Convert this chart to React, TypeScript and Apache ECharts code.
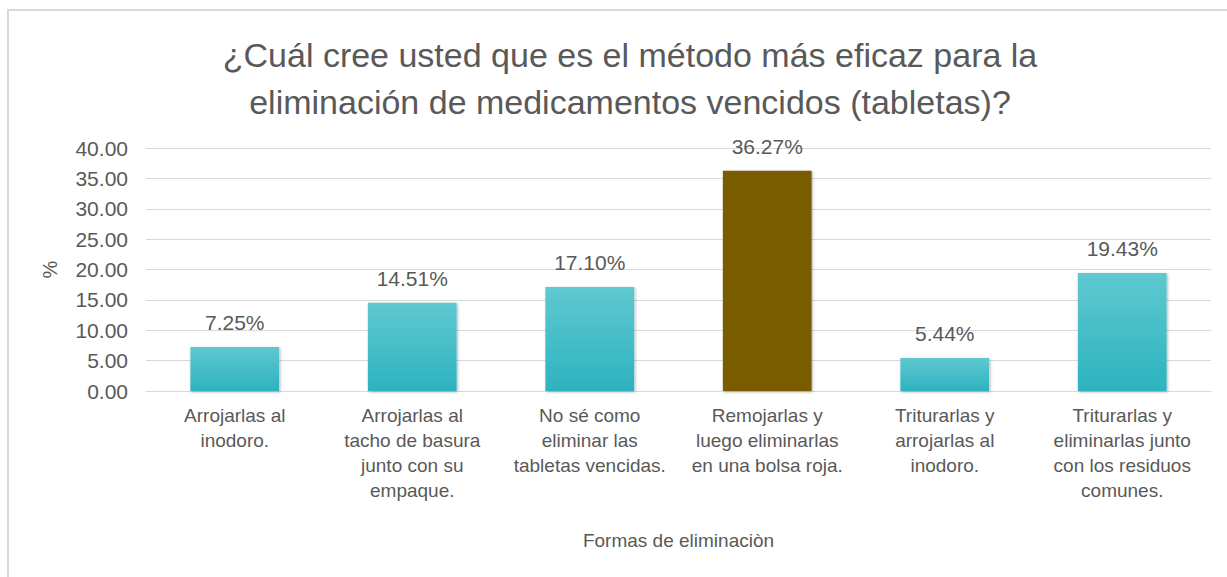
import React, { useEffect, useRef } from "react";
import * as echarts from "echarts";

const categories = [
  "Arrojarlas al\ninodoro.",
  "Arrojarlas al\ntacho de basura\njunto con su\nempaque.",
  "No sé como\neliminar las\ntabletas vencidas.",
  "Remojarlas y\nluego eliminarlas\nen una bolsa roja.",
  "Triturarlas y\narrojarlas al\ninodoro.",
  "Triturarlas y\neliminarlas junto\ncon los residuos\ncomunes.",
];
const values = [7.25, 14.51, 17.1, 36.27, 5.44, 19.43];
const highlightIndex = 3;
const titleText = "¿Cuál cree usted que es el método más eficaz para la\neliminación de medicamentos vencidos (tabletas)?";
const xName = "Formas de eliminaciòn";
const yName = "%";

const FONT = "'Liberation Sans', Arial, sans-serif";
const TXT = "#595959";

export default function App() {
  const ref = useRef<HTMLDivElement>(null);
  useEffect(() => {
    document.body.style.margin = "0";
    const chart = echarts.init(ref.current!, null, { renderer: "svg" });
    const teal = new echarts.graphic.LinearGradient(0, 0, 0, 1, [
      { offset: 0, color: "#60C8D0" },
      { offset: 1, color: "#2DB3BF" },
    ]);
    chart.setOption({
      animation: false,
      backgroundColor: "#fff",
      textStyle: { fontFamily: FONT },
      graphic: [
        {
          type: "rect",
          shape: { x: 8, y: 10, width: 1240, height: 600 },
          style: { fill: "none", stroke: "#d9d9d9", lineWidth: 2 },
          silent: true,
        },
      ],
      title: {
        text: titleText,
        left: 625,
        top: 26,
        textAlign: "center",
        textStyle: {
          fontFamily: FONT,
          fontSize: 34,
          fontWeight: "normal",
          color: TXT,
          lineHeight: 47,
        },
      },
      grid: { left: 146, right: 16, top: 148, bottom: 186 },
      xAxis: {
        type: "category",
        data: categories,
        name: xName,
        nameLocation: "middle",
        nameGap: 140,
        nameTextStyle: { fontFamily: FONT, fontSize: 19, color: TXT },
        axisLine: { lineStyle: { color: "#d9d9d9", width: 1 } },
        axisTick: { show: false },
        axisLabel: {
          interval: 0,
          margin: 12,
          fontFamily: FONT,
          fontSize: 19,
          lineHeight: 25,
          color: TXT,
          verticalAlign: "top",
        },
      },
      yAxis: {
        type: "value",
        min: 0,
        max: 40,
        interval: 5,
        name: yName,
        nameLocation: "middle",
        nameGap: 86,
        nameRotate: 90,
        nameTextStyle: { fontFamily: FONT, fontSize: 20, color: TXT },
        axisLine: { show: false },
        axisTick: { show: false },
        splitLine: { lineStyle: { color: "#d9d9d9", width: 1 } },
        axisLabel: {
          margin: 18,
          fontFamily: FONT,
          fontSize: 21,
          color: TXT,
          formatter: (v: number) => v.toFixed(2),
        },
      },
      series: [
        {
          type: "bar",
          barWidth: "50%",
          data: values.map((v, i) => ({
            value: v,
            itemStyle: {
              color: i === highlightIndex ? "#7A5B00" : teal,
              shadowBlur: 3,
              shadowColor: "rgba(0,0,0,0.3)",
              shadowOffsetX: 1,
              shadowOffsetY: 1,
            },
          })),
          label: {
            show: true,
            position: "top",
            distance: 14,
            fontFamily: FONT,
            fontSize: 21,
            color: TXT,
            formatter: (p: any) => p.value.toFixed(2) + "%",
          },
        },
      ],
    });
    return () => chart.dispose();
  }, []);
  return <div ref={ref} style={{ width: 1227, height: 577 }} />;
}
